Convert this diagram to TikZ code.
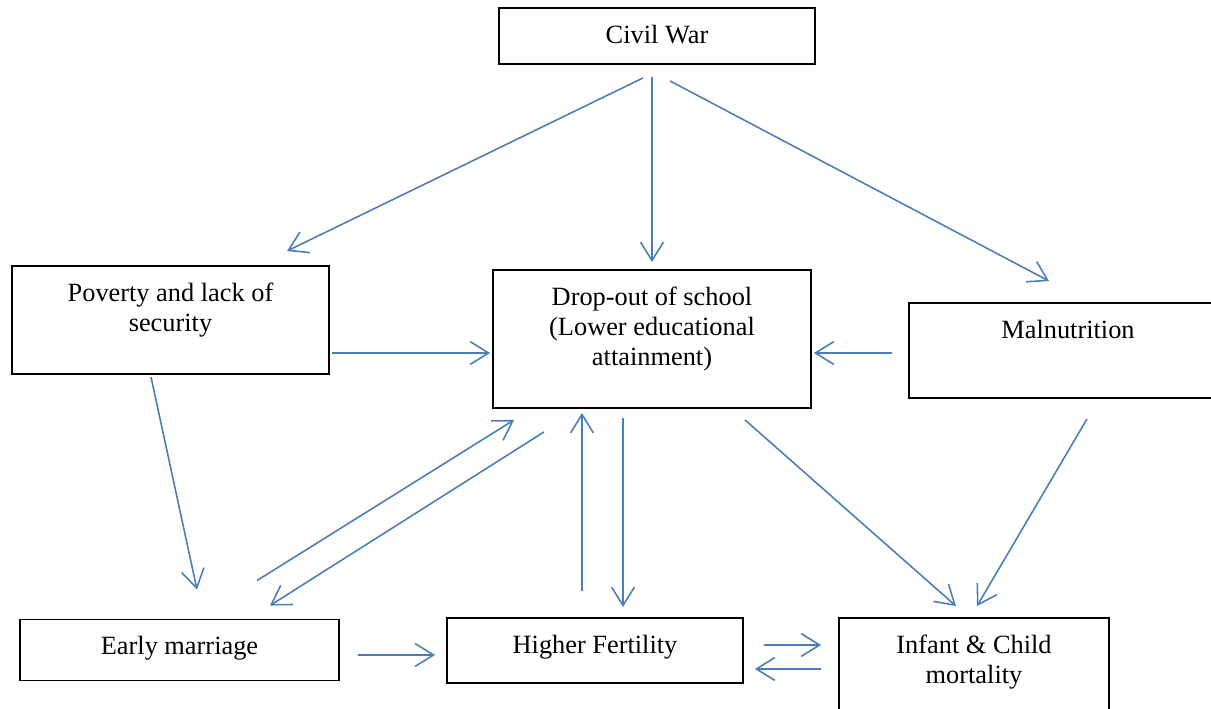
\documentclass[tikz,border=0pt]{standalone}
\usepackage{fontspec}
\setmainfont{Liberation Serif}
\usetikzlibrary{arrows.meta}

\definecolor{linkblue}{RGB}{74,126,187}

% box text: width, height, lines (set from the top)
\newcommand{\boxtext}[3]{\parbox[c][#2][t]{#1}{\centering\rule{0pt}{20pt}#3}}

\begin{document}
\begin{tikzpicture}[
x=0.02cm, y=-0.02cm,
font=\fontsize{15}{17.3}\selectfont,
every node/.style={
draw,
line width=1.1pt,
inner sep=0pt
},
link/.style={
draw=linkblue,
line width=0.9pt,
-{Straight Barb[length=10.5pt,width=13pt,line width=0.9pt]}
}
]
\useasboundingbox (0,0) rectangle (1211,709);

\node (war) at (657,36)
{\boxtext{6.32cm}{1.12cm}{Civil War}};

\node (poverty) at (170.5,320)
{\boxtext{6.34cm}{2.16cm}{Poverty and lack of\\security}};

\node (dropout) at (652,339)
{\boxtext{6.36cm}{2.76cm}{Drop-out of school\\(Lower educational\\attainment)}};

\node (malnut) at (1068,350.5)
{\boxtext{6.36cm}{1.9cm}{Malnutrition}};

\node (marriage) at (179.5,650)
{\boxtext{6.38cm}{1.22cm}{Early marriage}};

\node (fertility) at (595,650.5)
{\boxtext{5.92cm}{1.3cm}{Higher Fertility}};

\node (mortality) at (974,679)
{\boxtext{5.4cm}{2.44cm}{Infant \& Child\\mortality}};

\draw[link] ([shift={(-14,13)}]war.south) -- ([shift={(116.5,-14)}]poverty.north);
\draw[link] ([shift={(-5,12)}]war.south) -- ([shift={(0,-7)}]dropout.north);
\draw[link] ([shift={(13,16)}]war.south) -- ([shift={(-19,-21)}]malnut.north);

\draw[link] ([shift={(2,33)}]poverty.east) -- ([shift={(-2,14)}]dropout.west);
\draw[link] ([shift={(-16,2.5)}]malnut.west) -- ([shift={(2,14)}]dropout.east);
\draw[link] ([shift={(-19.5,2)}]poverty.south) -- ([shift={(17.5,-29)}]marriage.north);

\draw[link] ([shift={(77.5,-38)}]marriage.north) -- ([shift={(-138,11)}]dropout.south);
\draw[link] ([shift={(-108,23)}]dropout.south) -- ([shift={(90.5,-13)}]marriage.north);
\draw[link] ([shift={(18,5)}]marriage.east) -- ([shift={(-11,4.5)}]fertility.west);

\draw[link] ([shift={(-13,-26)}]fertility.north) -- ([shift={(-70,4)}]dropout.south);
\draw[link] ([shift={(-29,9)}]dropout.south) -- ([shift={(28,-10)}]fertility.north);

\draw[link] ([shift={(93,11)}]dropout.south) -- ([shift={(-18,-11)}]mortality.north);
\draw[link] ([shift={(19,20)}]malnut.south) -- ([shift={(3,-11)}]mortality.north);

\draw[link] ([shift={(20,-5.5)}]fertility.east) -- ([shift={(-17,-34)}]mortality.west);
\draw[link] ([shift={(-17,-10)}]mortality.west) -- ([shift={(11,18.5)}]fertility.east);

\end{tikzpicture}
\end{document}
